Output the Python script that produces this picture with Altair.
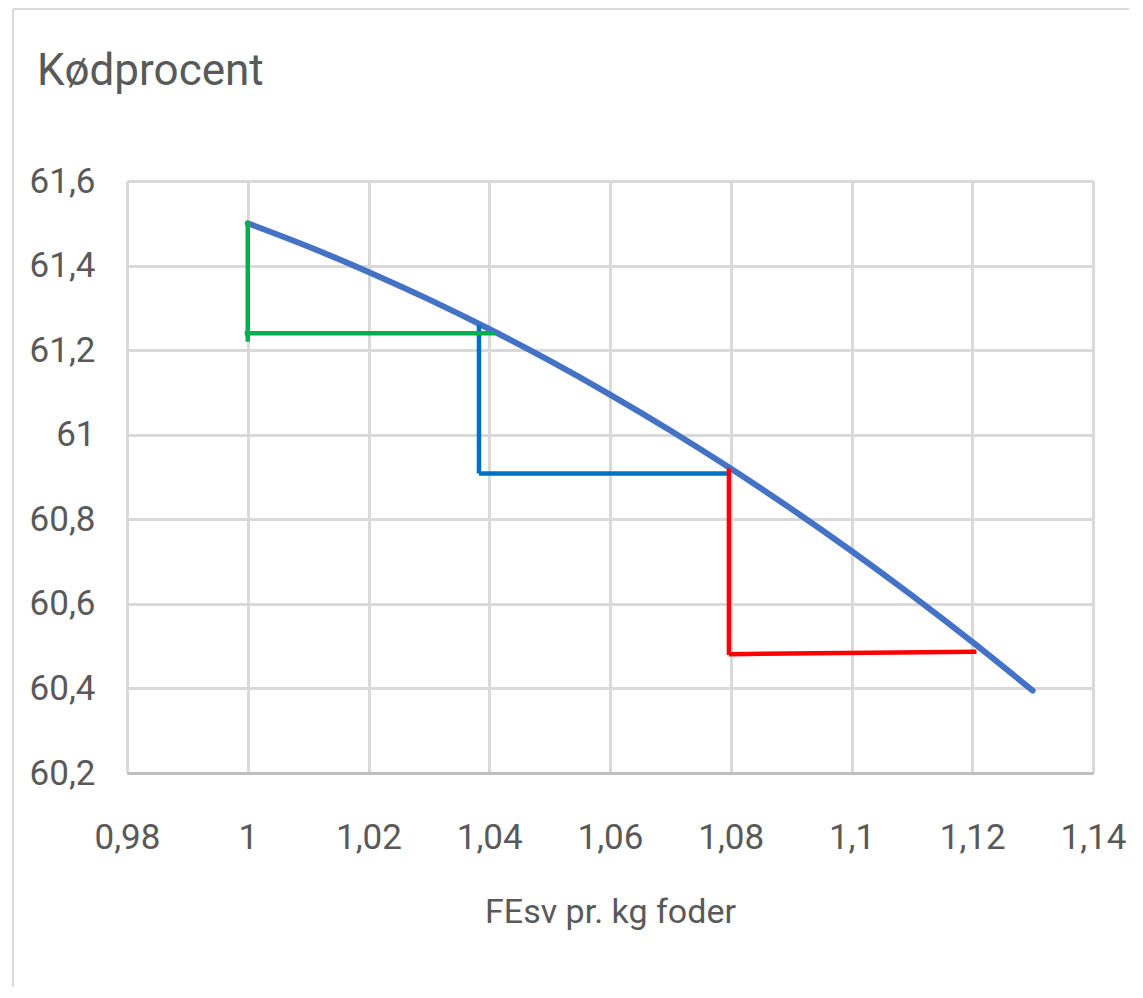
import altair as alt
import pandas as pd

# Blue curve
curve_x = [1.00, 1.01, 1.02, 1.03, 1.04, 1.05, 1.06, 1.07, 1.08, 1.09, 1.10, 1.11, 1.12, 1.13]
curve_y = [61.50, 61.445, 61.385, 61.32, 61.25, 61.175, 61.095, 61.01, 60.92, 60.825, 60.725, 60.62, 60.51, 60.395]

# Step segments
seg_group = ["green", "green", "blue", "blue", "red", "red"]
seg_x1 = [1.000, 0.9995, 1.0383, 1.0383, 1.0797, 1.0797]
seg_y1 = [61.505, 61.24, 61.26, 60.908, 60.92, 60.481]
seg_x2 = [1.000, 1.041, 1.0383, 1.0797, 1.0797, 1.1207]
seg_y2 = [61.22, 61.24, 60.908, 60.908, 60.479, 60.487]

x_ticks = [0.98, 1.00, 1.02, 1.04, 1.06, 1.08, 1.10, 1.12, 1.14]
y_ticks = [60.2, 60.4, 60.6, 60.8, 61.0, 61.2, 61.4, 61.6]

title_text = "Kødprocent"
x_title = "FEsv pr. kg foder"

FONT = "Roboto"
TXT = "#595959"
GRID = "#d9d9d9"

curve_df = pd.DataFrame({"x": curve_x, "y": curve_y})
seg_df = pd.DataFrame({"g": seg_group, "x": seg_x1, "y": seg_y1, "x2": seg_x2, "y2": seg_y2})

xscale = alt.Scale(domain=[0.98, 1.14], nice=False, zero=False)
yscale = alt.Scale(domain=[60.2, 61.6], nice=False, zero=False)

xaxis = alt.Axis(
    values=x_ticks, title=x_title, grid=True, gridColor=GRID, gridWidth=3,
    ticks=False, domain=True, domainColor="#bfbfbf", domainWidth=3,
    labelFont=FONT, labelFontSize=35, labelColor=TXT, labelPadding=47,
    labelExpr="replace(format(datum.value, '.2~f'), '.', ',')",
    titleFont=FONT, titleFontSize=34, titleColor=TXT, titleFontWeight="normal",
    titlePadding=40, labelFlush=False, labelOverlap=False,
)
yaxis = alt.Axis(
    values=y_ticks, title=None, grid=True, gridColor=GRID, gridWidth=3,
    ticks=False, domain=False, labelFont=FONT, labelFontSize=35,
    labelColor=TXT, labelPadding=32,
    labelExpr="replace(format(datum.value, '.1~f'), '.', ',')",
    labelOverlap=False, labelFlush=False,
)

base_curve = alt.Chart(curve_df).mark_line(
    color="#4472C4", strokeWidth=6, strokeCap="round", interpolate="monotone", clip=False
).encode(
    x=alt.X("x:Q", scale=xscale, axis=xaxis),
    y=alt.Y("y:Q", scale=yscale, axis=yaxis),
)

segs = alt.Chart(seg_df).mark_rule(strokeWidth=4.5).encode(
    x=alt.X("x:Q", scale=xscale),
    y=alt.Y("y:Q", scale=yscale),
    x2="x2:Q",
    y2="y2:Q",
    color=alt.Color("g:N", scale=alt.Scale(domain=["green", "blue", "red"],
                                          range=["#00B050", "#0070C0", "#FF0000"]),
                    legend=None),
    order=alt.Order("g:N"),
)

one = pd.DataFrame({"k": [0]})
left_border = alt.Chart(one).mark_rule(color=GRID, strokeWidth=2).encode(
    x=alt.value(-114), y=alt.value(-172), y2=alt.value(806)
)
top_border = alt.Chart(one).mark_rule(color=GRID, strokeWidth=2).encode(
    x=alt.value(-114), x2=alt.value(1002), y=alt.value(-172)
)
title_mark = alt.Chart(one).mark_text(
    text=title_text, font=FONT, fontSize=44, color=TXT, align="left", baseline="alphabetic"
).encode(x=alt.value(-90), y=alt.value(-96))

chart = alt.layer(
    left_border, top_border, title_mark, base_curve, segs
).properties(
    width=966, height=592,
    padding={"left": 4, "top": 0, "right": 0, "bottom": 0},
).configure_view(stroke=None).configure(background="white")

chart.save("out.html", embed_options={"renderer": "svg", "actions": False})
